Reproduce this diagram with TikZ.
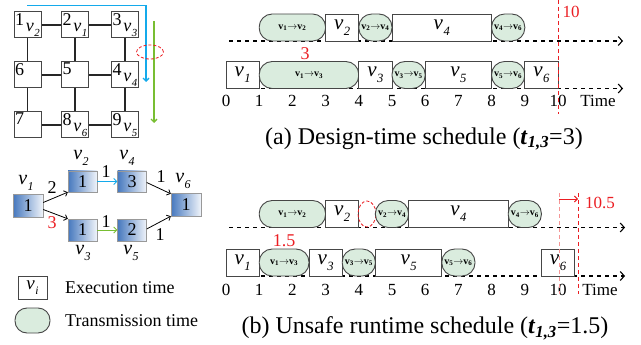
\documentclass[tikz,border=0pt]{standalone}
\usepackage{fontspec}
\setmainfont{Liberation Serif}
\usetikzlibrary{arrows.meta}
\definecolor{msgfill}{RGB}{218,236,222}
\definecolor{bordgray}{RGB}{70,70,70}
\definecolor{myred}{RGB}{235,30,35}
\definecolor{mypink}{RGB}{245,150,150}
\definecolor{myblue}{RGB}{20,170,235}
\definecolor{mygreen}{RGB}{120,190,50}
\definecolor{gblue}{RGB}{70,120,190}
\newcommand{\fsz}[1]{\fontsize{#1}{#1}\selectfont}
\newcommand{\tv}[1]{\textit{v}\kern0.5pt\raisebox{-0.6ex}{\scalebox{0.6}{\textit{#1}}}}
\newcommand{\mv}[2]{\textbf{v}\textsubscript{\textbf{#1}}$\rightarrow$\textbf{v}\textsubscript{\textbf{#2}}}
\newcommand{\tskbox}[5]{%
  \pgfmathsetmacro{\tbl}{226+33.2*#2}%
  \pgfmathsetmacro{\tbw}{33.2*(#3-#2)}%
  \node[taskbox,minimum width=\tbw pt] (#1) at ({\tbl+\tbw/2},#4) {#5};}
\newcommand{\msgell}[5]{%
  \pgfmathsetmacro{\tbl}{226+33.2*#2}%
  \pgfmathsetmacro{\tbw}{33.2*(#3-#2)}%
  \node[msgbox,minimum width=\tbw pt] (#1) at ({\tbl+\tbw/2},#4) {#5};}
\tikzset{
  taskbox/.style={draw=bordgray,fill=white,line width=0.9pt,inner sep=0pt,minimum height=27pt,font=\fsz{21}},
  msgbox/.style={draw=bordgray,fill=msgfill,line width=0.9pt,inner sep=0pt,minimum height=27pt,rounded corners=13pt,font=\fsz{10}},
  axisline/.style={line width=1.1pt,dash pattern=on 4pt off 4pt,-{Straight Barb[length=4pt,width=9pt]}},
  ticklab/.style={font=\fsz{17},inner sep=0pt},
  redtxt/.style={text=myred,inner sep=0pt},
  reddash/.style={draw=myred,line width=0.9pt,dash pattern=on 4pt off 3pt},
  pinkdash/.style={draw=mypink,line width=0.9pt,dash pattern=on 4pt off 3pt},
  meshbox/.style={draw=bordgray,fill=white,line width=1pt,minimum width=27pt,minimum height=26pt,inner sep=0pt},
  meshnum/.style={anchor=north west,inner sep=1.5pt,font=\fsz{18}},
  meshv/.style={anchor=south east,inner sep=1.5pt,font=\fsz{18}},
  meshline/.style={line width=1.5pt,black!85},
  gbox/.style={draw=gray!80,left color=gblue,right color=gblue!8,minimum width=30pt,minimum height=22pt,inner sep=0pt,font=\fsz{18}},
  glab/.style={inner sep=0pt,font=\fsz{20}},
  elab/.style={inner sep=0pt,font=\fsz{18}},
  garrow/.style={line width=0.8pt,-{Straight Barb[length=3pt,width=6pt]}},
  capt/.style={inner sep=0pt,font=\fsz{24}},
}
\begin{document}
\begin{tikzpicture}[x=1pt,y=-1pt]
\useasboundingbox (0,0) rectangle (641,345);
% ---------------- mesh ----------------
\node[meshbox] (m1) at (27.5,25) {};
\node[meshbox] (m2) at (75,25) {};
\node[meshbox] (m3) at (125,25) {};
\node[meshbox] (m6) at (27.5,75) {};
\node[meshbox] (m5) at (75,75) {};
\node[meshbox] (m4) at (125,75) {};
\node[meshbox] (m7) at (27.5,125) {};
\node[meshbox] (m8) at (75,125) {};
\node[meshbox] (m9) at (125,125) {};
\foreach \a/\b in {m1/m2,m2/m3,m1/m6,m2/m5,m3/m4,m6/m5,m5/m4,m6/m7,m5/m8,m4/m9,m7/m8,m8/m9}
  \draw[meshline] (\a) -- (\b);
\node[meshnum] (n1) at (m1.north west) {1};
\node[meshnum] (n2) at (m2.north west) {2};
\node[meshnum] (n3) at (m3.north west) {3};
\node[meshnum] (n4) at (m4.north west) {4};
\node[meshnum] (n5) at (m5.north west) {5};
\node[meshnum] (n6) at (m6.north west) {6};
\node[meshnum] (n7) at (m7.north west) {7};
\node[meshnum] (n8) at (m8.north west) {8};
\node[meshnum] (n9) at (m9.north west) {9};
\node[meshv] (w1) at (m1.south east) {\tv2};
\node[meshv] (w2) at (m2.south east) {\tv1};
\node[meshv] (w3) at (m3.south east) {\tv3};
\node[meshv] (w4) at (m4.south east) {\tv4};
\node[meshv] (w8) at (m8.south east) {\tv6};
\node[meshv] (w9) at (m9.south east) {\tv5};
\coordinate (bl0) at (27,5.7);
\coordinate (bl1) at (146,5.7);
\coordinate (bl2) at (146,82);
\draw[myblue,line width=1.3pt,-{Straight Barb[length=3pt,width=6pt]}] (bl0) -- (bl1) -- (bl2);
\coordinate (gr0) at (154,21);
\coordinate (gr1) at (154,123);
\draw[mygreen,line width=1.3pt,-{Straight Barb[length=3pt,width=6pt]}] (gr0) -- (gr1);
\draw[myred,line width=0.8pt,dash pattern=on 3pt off 2pt] (150,52) ellipse [x radius=13.5pt,y radius=7pt];
% ---------------- task graph ----------------
\node[gbox,minimum height=23pt] (g1) at (28,205.5) {1};
\node[gbox,minimum width=29pt,minimum height=21pt] (g2) at (82.5,181.5) {1};
\node[gbox,minimum width=29pt,minimum height=21pt] (g4) at (132,181.5) {3};
\node[gbox,minimum width=29pt] (g3) at (82.5,230) {1};
\node[gbox,minimum width=29pt] (g5) at (132,230) {2};
\node[gbox,minimum height=23pt] (g6) at (186,204.5) {1};
\node[glab] (l1) at (26,183) {\tv1};
\node[glab] (l2) at (81,158) {\tv2};
\node[glab] (l4) at (127,158) {\tv4};
\node[glab] (l6) at (183,181) {\tv6};
\node[glab] (l3) at (83,253) {\tv3};
\node[glab] (l5) at (131,253) {\tv5};
\draw[garrow] ([yshift=3pt]g1.east) -- (g2.south west);
\draw[garrow] ([yshift=-4pt]g1.east) -- (g3.north west);
\draw[garrow,myblue] (g2.east) -- (g4.west);
\draw[garrow,mygreen] (g3.east) -- (g5.west);
\draw[garrow] ([yshift=-1pt]g4.east) -- ([yshift=-1pt]g6.north west);
\draw[garrow] ([yshift=1pt]g5.east) -- (g6.south west);
\node[elab] (e12) at (52,188) {2};
\node[elab,text=myred] (e13) at (52,223) {3};
\node[elab] (e24) at (106,172) {1};
\node[elab] (e35) at (106,222) {1};
\node[elab] (e46) at (161,177) {1};
\node[elab] (e56) at (160,235) {1};
% ---------------- legend ----------------
\node[taskbox,minimum width=29pt,minimum height=23pt,font=\fsz{19}] (lgb) at (32.5,287.5) {\tv{i}};
\node[anchor=west,inner sep=0pt,font=\fsz{18}] (lgbt) at (65,288) {Execution time};
\node[msgbox,minimum width=35pt,minimum height=25pt,rounded corners=12pt] (lge) at (32.5,320.5) {};
\node[anchor=west,inner sep=0pt,font=\fsz{18}] (lget) at (65,321) {Transmission time};
% ---------------- schedule (a) ----------------
\coordinate (aa0) at (229,41);   \coordinate (aa1) at (623,41);
\coordinate (ab0) at (229,88.5); \coordinate (ab1) at (623,88.5);
\draw[axisline] (aa0) -- (aa1);
\draw[axisline] (ab0) -- (ab1);
\msgell{a12}{1}{3}{27.5}{\mv12}
\tskbox{av2}{3}{4}{27.5}{\tv2}
\msgell{a24}{4}{5}{27.5}{\mv24}
\tskbox{av4}{5}{8}{27.5}{\tv4}
\msgell{a46}{8}{9}{27.5}{\mv46}
\tskbox{av1}{0}{1}{75}{\tv1}
\msgell{a13}{1}{4}{75}{\mv13}
\tskbox{av3}{4}{5}{75}{\tv3}
\msgell{a35}{5}{6}{75}{\mv35}
\tskbox{av5}{6}{8}{75}{\tv5}
\msgell{a56}{8}{9}{75}{\mv56}
\tskbox{av6}{9}{10}{75}{\tv6}
\foreach \i in {0,...,10} \node[ticklab] (ta\i) at ({226+33.2*\i},101) {\i};
\node[ticklab] (tatime) at (598,101) {Time};
\coordinate (ra0) at (558,0);
\coordinate (ra1) at (558,114);
\draw[reddash] (ra0) -- (ra1);
\node[redtxt,font=\fsz{17}] (ra10) at (571,12) {10};
\node[redtxt,font=\fsz{18}] (ra3) at (305,54) {3};
\node[capt] (capa) at (424,139) {(a) Design-time schedule (\textbf{\textit{t}}\textsubscript{\textbf{\textit{1,3}}}=3)};
% ---------------- schedule (b) ----------------
\coordinate (ba0) at (229,227.5); \coordinate (ba1) at (625,227.5);
\coordinate (bb0) at (229,276);   \coordinate (bb1) at (625,276);
\draw[axisline] (ba0) -- (ba1);
\draw[axisline] (bb0) -- (bb1);
\msgell{b12}{1}{3}{214}{\mv12}
\tskbox{bv2}{3}{4}{214}{\tv2}
\draw[myred,line width=0.8pt,dash pattern=on 3pt off 2pt] (367,214) ellipse [x radius=9pt,y radius=13pt];
\msgell{b24}{4.5}{5.5}{214}{\mv24}
\tskbox{bv4}{5.5}{8.5}{214}{\tv4}
\msgell{b46}{8.5}{9.5}{214}{\mv46}
\tskbox{bv1}{0}{1}{262.5}{\tv1}
\msgell{b13}{1}{2.5}{262.5}{\mv13}
\tskbox{bv3}{2.5}{3.5}{262.5}{\tv3}
\msgell{b35}{3.5}{4.5}{262.5}{\mv35}
\tskbox{bv5}{4.5}{6.5}{262.5}{\tv5}
\msgell{b56}{6.5}{7.5}{262.5}{\mv56}
\tskbox{bv6}{9.5}{10.5}{262.5}{\tv6}
\foreach \i in {0,...,10} \node[ticklab] (tb\i) at ({226+33.2*\i},290) {\i};
\node[ticklab] (tbtime) at (600,290) {Time};
\coordinate (rb0) at (578,193);
\coordinate (rb1) at (578,294);
\coordinate (pb0) at (559,193);
\coordinate (pb1) at (559,294);
\draw[pinkdash] (pb0) -- (pb1);
\draw[reddash] (rb0) -- (rb1);
\coordinate (rar0) at (559,199);
\coordinate (rar1) at (578,199);
\draw[myred,line width=0.9pt,-{Straight Barb[length=3pt,width=6pt]}] (rar0) -- (rar1);
\node[redtxt,font=\fsz{17}] (rb105) at (600,203) {10.5};
\node[redtxt,font=\fsz{18}] (rb15) at (284,241) {1.5};
\node[capt] (capb) at (425,328) {(b) Unsafe runtime schedule (\textbf{\textit{t}}\textsubscript{\textbf{\textit{1,3}}}=1.5)};
\end{tikzpicture}
\end{document}
